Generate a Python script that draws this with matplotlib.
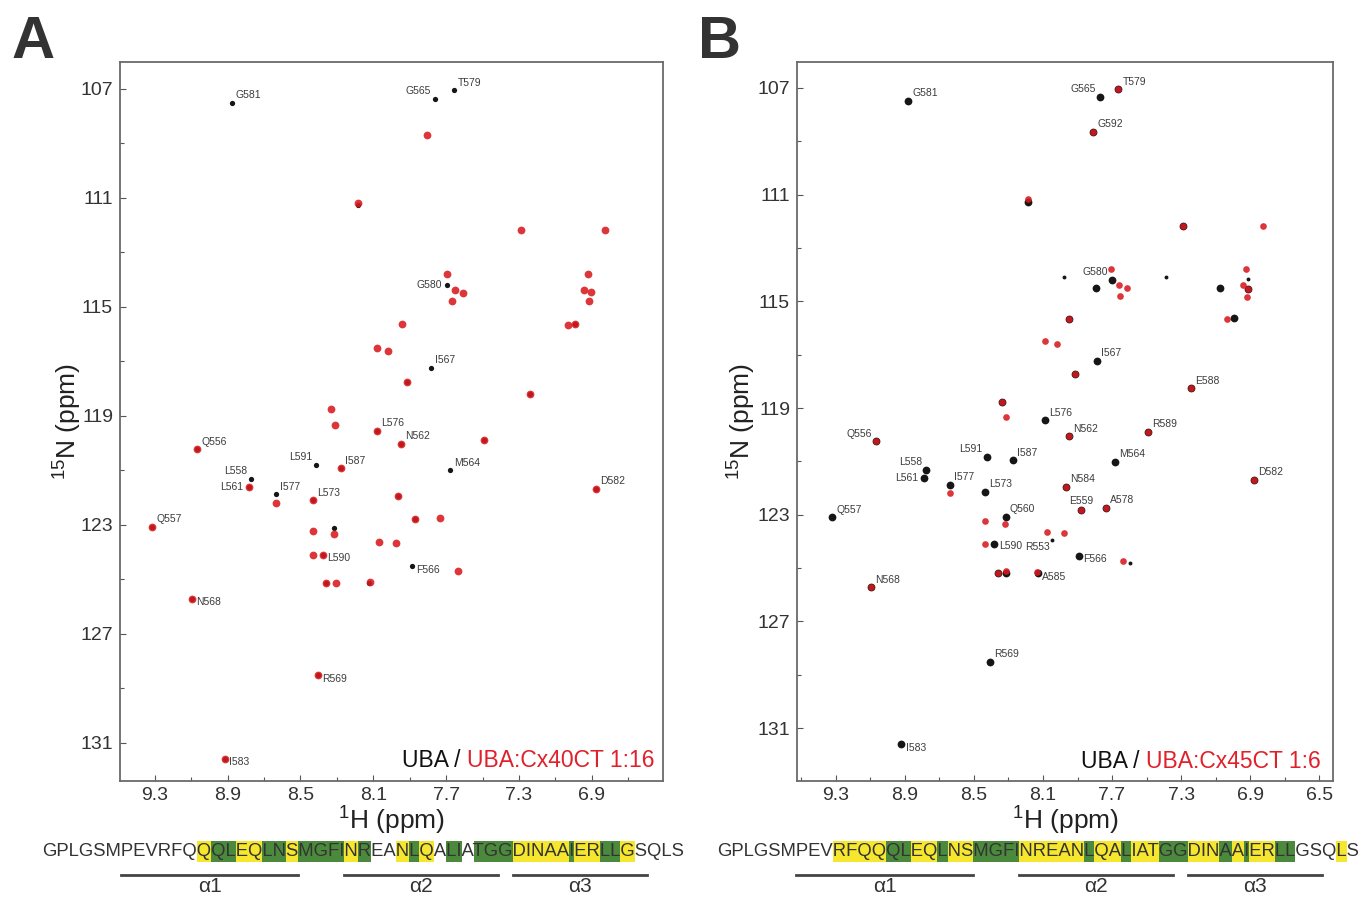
import matplotlib
matplotlib.use('Agg')
import matplotlib.pyplot as plt
from matplotlib.patches import Rectangle
from matplotlib.lines import Line2D
from matplotlib.ticker import AutoMinorLocator, FixedLocator
from matplotlib.font_manager import FontProperties

plt.rcParams['font.family'] = ['Liberation Sans', 'DejaVu Sans']
plt.rcParams['mathtext.default'] = 'regular'

RED = '#d8191f'
BLACK = '#161616'
GREY = '#3c3c3c'

# ---------------- Panel A: UBA (black) / UBA:Cx40CT 1:16 (red) ----------------
A_lab_names = ['G581', 'G565', 'T579', 'G580', 'I567', 'L576', 'N562', 'Q556', 'L591', 'I587', 'M564',
               'L558', 'L561', 'I577', 'L573', 'D582', 'Q557', 'L590', 'F566', 'N568', 'R569', 'I583']
A_lab_H = [8.878, 7.760, 7.657, 7.695, 7.783, 8.080, 7.946, 9.066, 8.414, 8.276, 7.678,
           8.771, 8.784, 8.635, 8.433, 6.876, 9.315, 8.378, 7.889, 9.093, 8.403, 8.916]
A_lab_N = [107.51, 107.37, 107.06, 114.20, 117.24, 119.56, 120.05, 120.24, 120.82, 120.94, 121.01,
           121.31, 121.62, 121.89, 122.11, 121.69, 123.09, 124.11, 124.53, 125.72, 128.53, 131.59]

# unlabelled free peaks still visible
A_free_H = [8.182, 6.991, 7.916, 7.241, 7.490, 7.963, 7.871, 8.316, 8.360, 8.125]
A_free_N = [111.26, 115.63, 117.75, 118.21, 119.90, 121.95, 122.81, 123.13, 125.15, 125.16]

# bound spectrum
A_bound_H = [7.806, 8.182, 7.287, 6.826, 7.693, 7.651, 7.605, 7.668, 6.920, 6.941, 6.905, 6.915,
             7.033, 6.991, 7.940, 8.082, 8.017, 7.916, 7.241, 8.330, 8.309, 7.490, 7.963, 7.871,
             7.733, 8.429, 8.316, 8.071, 7.973, 8.431, 7.634, 8.360, 8.307, 8.118,
             8.080, 7.946, 9.066, 8.276, 8.784, 8.635, 8.433, 6.876, 9.315, 8.378, 9.093, 8.403, 8.916]
A_bound_N = [108.69, 111.19, 112.17, 112.18, 113.79, 114.39, 114.49, 114.78, 113.79, 114.38, 114.48, 114.78,
             115.67, 115.63, 115.65, 116.50, 116.62, 117.75, 118.21, 118.77, 119.36, 119.90, 121.95, 122.81,
             122.75, 123.24, 123.35, 123.64, 123.68, 124.10, 124.72, 125.15, 125.15, 125.10,
             119.56, 120.05, 120.24, 120.94, 121.62, 122.20, 122.11, 121.69, 123.09, 124.11, 125.72, 128.53, 131.59]

# ---------------- Panel B: UBA (black) / UBA:Cx45CT 1:6 (red) ----------------
B_lab_names = ['G581', 'G565', 'T579', 'G592', 'G580', 'I567', 'E588', 'L576', 'N562', 'R589',
               'Q556', 'L591', 'I587', 'M564', 'L558', 'L561', 'I577', 'L573', 'N584', 'D582',
               'E559', 'A578', 'Q557', 'Q560', 'L590', 'R553', 'F566', 'A585', 'N568', 'R569', 'I583']
B_lab_H = [8.882, 7.768, 7.664, 7.811, 7.702, 7.787, 7.240, 8.087, 7.947, 7.492,
           9.068, 8.425, 8.275, 7.684, 8.775, 8.789, 8.639, 8.437, 7.965, 6.878,
           7.877, 7.736, 9.320, 8.317, 8.385, 8.045, 7.891, 8.129, 9.096, 8.405, 8.920]
B_lab_N = [107.50, 107.34, 107.06, 108.66, 114.20, 117.24, 118.26, 119.46, 120.06, 119.89,
           120.25, 120.84, 120.96, 121.03, 121.31, 121.63, 121.88, 122.13, 121.95, 121.70,
           122.84, 122.75, 123.10, 123.09, 124.11, 123.96, 124.54, 125.20, 125.72, 128.51, 131.61]

B_free_H = [8.185, 7.288, 7.794, 7.076, 6.912, 6.992, 7.947, 7.913, 8.335, 8.359, 8.315]
B_free_N = [111.26, 112.16, 114.51, 114.51, 114.53, 115.63, 115.65, 117.73, 118.78, 125.17, 125.20]

# weak free peaks (drawn small)
B_weak_names = ['R553']
B_weak_H = [7.981, 7.388, 8.045, 7.598, 6.910]
B_weak_N = [114.10, 114.10, 123.96, 124.81, 114.15]

B_bound_H = [7.664, 7.811, 8.185, 7.288, 6.828, 7.704, 7.662, 7.612, 7.656, 6.924, 6.944, 6.912, 6.918,
             7.036, 7.947, 8.089, 8.019, 7.913, 7.240, 8.335, 8.315, 7.947, 7.492, 9.068, 8.639, 7.965,
             6.878, 7.877, 7.736, 8.320, 8.435, 8.075, 7.977, 8.435, 7.636, 8.359, 8.315, 9.096, 8.132]
B_bound_N = [107.06, 108.66, 111.18, 112.16, 112.16, 113.79, 114.38, 114.51, 114.81, 113.80, 114.38, 114.53, 114.83,
             115.66, 115.65, 116.49, 116.61, 117.73, 118.26, 118.78, 119.35, 120.06, 119.89, 120.25, 122.20, 121.95,
             121.70, 122.84, 122.75, 123.35, 123.25, 123.66, 123.70, 124.10, 124.74, 125.17, 125.11, 125.72, 125.15]

# ---------------- sequences ----------------
sequence = 'GPLGSMPEVRFQQQLEQLNSMGFINREANLQALIATGGDINAAIERLLGSQLS'
A_marks = '............yggyyggyggggyg..ygy.gg.gggyyyyygyyggy....'
B_marks = '.........yyyyggyygyyggggyyyyygyygyyyggyyygygyygg...y.'
helix_names = ['α1', 'α2', 'α3']
helix_start = [7, 25, 39]
helix_end = [20, 37, 50]

# label placement: (dx pt, dy pt, ha, va)
PLACE = {'ur': (3, 2, 'left', 'bottom'), 'ul': (-3, 2, 'right', 'bottom'),
         'l': (-4, 0, 'right', 'center'), 'r': (4, -1, 'left', 'center'),
         'lr': (3, 1, 'left', 'top'), 'll': (-2, -1, 'right', 'top'),
         'u': (0, 3, 'center', 'bottom')}
A_place = {'G565': 'ul', 'G580': 'l', 'L591': 'ul', 'L558': 'ul', 'L561': 'l',
           'L590': 'lr', 'F566': 'lr', 'N568': 'lr', 'R569': 'lr', 'I583': 'lr'}
B_place = {'G565': 'ul', 'G580': 'ul', 'Q556': 'ul', 'L591': 'ul', 'L558': 'ul', 'L561': 'l',
           'E559': 'u', 'L590': 'r', 'R553': 'll', 'F566': 'lr', 'A585': 'lr', 'I583': 'lr'}

fig = plt.figure(figsize=(13.68, 9.01), dpi=100)
axA = fig.add_axes([120 / 1368, 1 - 781 / 901, 543 / 1368, 719 / 901])
axB = fig.add_axes([797 / 1368, 1 - 781 / 901, 536 / 1368, 719 / 901])


def draw_panel(ax, names, lab_H, lab_N, free_H, free_N, bound_H, bound_N, place,
               xlim, ylim, xticks, black_ms, red_ms, weak=None):
    skip = weak[0] if weak else []
    bh = [h for h, n in zip(lab_H, names) if n not in skip] + free_H
    bn = [v for v, n in zip(lab_N, names) if n not in skip] + free_N
    ax.plot(bh, bn, 'o', color=BLACK, ms=black_ms, mew=0, zorder=2)
    if weak:
        ax.plot(weak[1], weak[2], 'o', color=BLACK, ms=black_ms * 0.5, mew=0, zorder=2)
    ax.plot(bound_H, bound_N, 'o', color=RED, ms=red_ms, mew=0, alpha=0.88, zorder=3)
    for n, h, v in zip(names, lab_H, lab_N):
        dx, dy, ha, va = PLACE[place.get(n, 'ur')]
        ax.annotate(n, (h, v), xytext=(dx, dy), textcoords='offset points',
                    ha=ha, va=va, fontsize=7.5, color=GREY, zorder=4)
    ax.set_xlim(*xlim)
    ax.set_ylim(*ylim)
    ax.xaxis.set_major_locator(FixedLocator(xticks))
    ax.yaxis.set_major_locator(FixedLocator([107, 111, 115, 119, 123, 127, 131]))
    ax.xaxis.set_minor_locator(AutoMinorLocator(2))
    ax.yaxis.set_minor_locator(AutoMinorLocator(2))
    ax.tick_params(which='both', direction='in', color='#555555', width=0.8, labelsize=14,
                   labelcolor='#333333')
    ax.tick_params(which='major', length=4)
    ax.tick_params(which='minor', length=3)
    ax.tick_params(axis='y', pad=5)
    ax.tick_params(axis='x', pad=4)
    for s in ax.spines.values():
        s.set_color('#6a6a6a')
        s.set_linewidth(1.3)
    ax.set_xlabel('$^{1}$H (ppm)', fontsize=19, color='#222222')
    ax.set_ylabel('$^{15}$N (ppm)', fontsize=19, color='#222222')
    ax.xaxis.set_label_coords(0.5, -0.033)


draw_panel(axA, A_lab_names, A_lab_H, A_lab_N, A_free_H, A_free_N, A_bound_H, A_bound_N, A_place,
           (9.49, 6.51), (132.41, 106.02), [9.3, 8.9, 8.5, 8.1, 7.7, 7.3, 6.9], 3.8, 5.6)
draw_panel(axB, B_lab_names, B_lab_H, B_lab_N, B_free_H, B_free_N, B_bound_H, B_bound_N, B_place,
           (9.525, 6.42), (132.98, 106.03), [9.3, 8.9, 8.5, 8.1, 7.7, 7.3, 6.9, 6.5], 5.6, 4.8,
           weak=(B_weak_names, B_weak_H, B_weak_N))
axA.yaxis.set_label_coords(-0.066, 0.5)
axB.yaxis.set_label_coords(-0.072, 0.5)

renderer = fig.canvas.get_renderer()


def two_colour_legend(ax, red_txt, x, y):
    t = ax.text(x, y, red_txt, transform=ax.transAxes, ha='right', va='baseline',
                fontsize=16.5, color='#e0202a', zorder=5)
    bb = t.get_window_extent(renderer)
    xl = ax.transAxes.inverted().transform((bb.x0, bb.y0))[0]
    ax.text(xl, y, 'UBA / ', transform=ax.transAxes, ha='right', va='baseline',
            fontsize=16.5, color='#111111', zorder=5)


two_colour_legend(axA, 'UBA:Cx40CT 1:16', 0.985, 0.0195)
two_colour_legend(axB, 'UBA:Cx45CT 1:6', 0.977, 0.018)

fig.text(12 / 1368, 1 - 58 / 901, 'A', fontsize=43, fontweight='bold', color='#333333', va='baseline')
fig.text(698 / 1368, 1 - 58 / 901, 'B', fontsize=43, fontweight='bold', color='#333333', va='baseline')

# sequence strips
seq_prop = FontProperties(family=['Liberation Sans'], size=13.35)
COL = {'y': '#f6e72e', 'g': '#4b8a3c'}


def seq_strip(x0_px, marks):
    def wpx(s):
        if not s:
            return 0.0
        return renderer.get_text_width_height_descent(s, seq_prop, ismath=False)[0]

    edges = [x0_px + wpx(sequence[:i]) for i in range(len(sequence) + 1)]
    for i, m in enumerate(marks):
        if m in COL:
            fig.add_artist(Rectangle((edges[i] / 1368, 1 - 862 / 901), (edges[i + 1] - edges[i]) / 1368,
                                     21 / 901, transform=fig.transFigure, color=COL[m], lw=0, zorder=1))
    fig.text(x0_px / 1368, 1 - 851 / 901, sequence, fontproperties=seq_prop, color='#333333',
             ha='left', va='center', zorder=2)
    for name, s, e in zip(helix_names, helix_start, helix_end):
        xa, xb = edges[s - 1] / 1368, edges[e] / 1368
        fig.add_artist(Line2D([xa, xb], [1 - 875 / 901] * 2, transform=fig.transFigure,
                              color='#444444', lw=2))
        fig.text((xa + xb) / 2, 1 - 886 / 901, name, ha='center', va='center', fontsize=15,
                 color='#333333')


seq_strip(42, A_marks)
seq_strip(717, B_marks)

fig.savefig('out.png', dpi=100)
